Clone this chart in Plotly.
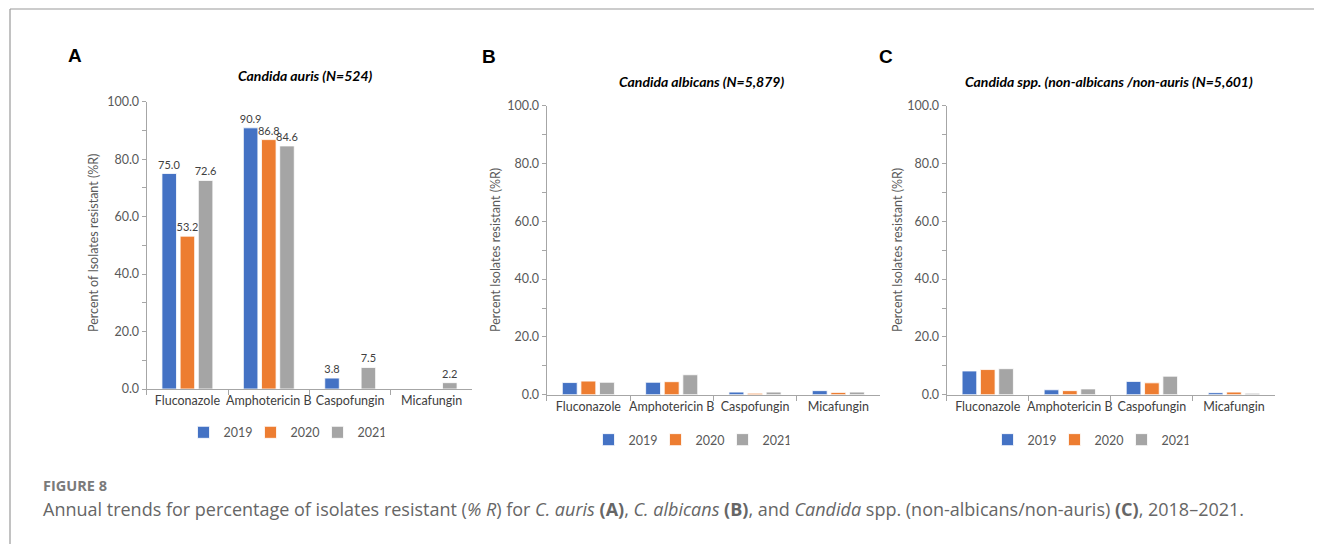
import plotly.graph_objects as go

drugs = ["Fluconazole", "Amphotericin B", "Caspofungin", "Micafungin"]
years = ["2019", "2020", "2021"]
colors = ["#4472C4", "#ED7D31", "#A5A5A5"]

# Panel A: Candida auris (N=524)  (None = no bar)
auris_2019 = [75.0, 90.9, 3.8, None]
auris_2020 = [53.2, 86.8, None, None]
auris_2021 = [72.6, 84.6, 7.5, 2.2]

# Panel B: Candida albicans (N=5,879)
albicans_2019 = [4.2, 4.3, 0.9, 1.4]
albicans_2020 = [4.7, 4.5, 0.5, 0.8]
albicans_2021 = [4.3, 6.9, 0.9, 0.9]

# Panel C: Candida spp. non-albicans/non-auris (N=5,601)
spp_2019 = [8.2, 1.7, 4.6, 0.7]
spp_2020 = [8.7, 1.4, 4.1, 0.9]
spp_2021 = [9.0, 2.0, 6.4, 0.5]

ytickvals = [0, 20, 40, 60, 80, 100]

panels = [
    dict(data=[auris_2019, auris_2020, auris_2021], labels=True, xa="x", ya="y", leg="legend"),
    dict(data=[albicans_2019, albicans_2020, albicans_2021], labels=False, xa="x2", ya="y2", leg="legend2"),
    dict(data=[spp_2019, spp_2020, spp_2021], labels=False, xa="x3", ya="y3", leg="legend3"),
]

FONT = "Lato, 'Open Sans', sans-serif"
CAPFONT = "'Open Sans', Lato, sans-serif"
TICKC = "#595959"
AXC = "#A6A6A6"

fig = go.Figure()
for p in panels:
    for yr, vals, col in zip(years, p["data"], colors):
        txt = [f"{v:.1f}" if (p["labels"] and v is not None) else "" for v in vals]
        fig.add_trace(go.Bar(
            x=drugs, y=vals, name=yr, xaxis=p["xa"], yaxis=p["ya"], legend=p["leg"],
            marker=dict(color=col, line=dict(color="white", width=0.8)),
            text=txt, textposition="outside", cliponaxis=False, constraintext="none",
            textfont=dict(family=FONT, size=11, color="#404040"),
            hoverinfo="x+y",
        ))

W, H = 1322, 544
OFF = 8  # page body margin offset
def px(x): return (x - OFF) / W
def py(y): return 1 - (y - OFF) / H

domains = [
    ((146.7, 472.3), (389.0, 101.7)),
    ((546.7, 880.0), (394.7, 105.7)),
    ((946.7, 1275.0), (394.7, 105.7)),
]

layout = dict(
    template="none",
    width=W, height=H, margin=dict(l=0, r=0, t=0, b=0, pad=0, autoexpand=False),
    paper_bgcolor="white", plot_bgcolor="white",
    barmode="group", bargap=0.33, bargroupgap=0.2,
    font=dict(family=FONT, color=TICKC, size=12),
    showlegend=True,
)

for i, ((x0, x1), (y0, y1)) in enumerate(domains):
    sfx = "" if i == 0 else str(i + 1)
    layout["xaxis" + sfx] = dict(
        domain=[px(x0), px(x1)], anchor="y" + sfx, type="category", automargin=False,
        range=[-0.5, 3.5], showline=True, linecolor=AXC, linewidth=1.2,
        ticks="outside", tickson="boundaries", ticklen=5, tickcolor=AXC, tickangle=0,
        tickfont=dict(family=FONT, size=12.5, color="#404040"), showgrid=False,
        zeroline=False, fixedrange=True,
    )
    layout["yaxis" + sfx] = dict(
        domain=[py(y0), py(y1)], anchor="x" + sfx, range=[0, 100], automargin=False,
        showline=True, linecolor=AXC, linewidth=1.2, showgrid=False, zeroline=False,
        tickvals=ytickvals, tickformat=".1f", ticks="outside", ticklen=4, tickcolor=AXC,
        minor=dict(dtick=10, ticks="outside", ticklen=4, tickcolor=AXC, showgrid=False),
        tickfont=dict(family=FONT, size=12.5, color=TICKC), fixedrange=True,
    )

legend_pos = [(284, 432.7), (689, 440), (1088, 440)]
for i, (lx, ly) in enumerate(legend_pos):
    key = "legend" if i == 0 else f"legend{i+1}"
    layout[key] = dict(
        orientation="h", x=px(lx), y=py(ly), xanchor="center", yanchor="middle",
        font=dict(family=FONT, size=12.5, color=TICKC), itemwidth=30,
        entrywidth=22, entrywidthmode="pixels", bgcolor="rgba(0,0,0,0)",
        traceorder="normal", itemclick=False, itemdoubleclick=False,
    )

fig.update_layout(**layout)

ann = []
def add(text, x, y, size, color, family=FONT, angle=0, xanchor="center"):
    ann.append(dict(text=text, x=px(x), y=py(y), xref="paper", yref="paper",
                    xanchor=xanchor, yanchor="middle", textangle=angle, showarrow=False,
                    font=dict(family=family, size=size, color=color)))

# panel letters
for lab, (lx, ly) in zip(["A", "B", "C"], [(75, 55), (489, 56), (886, 56)]):
    add(f"<b>{lab}</b>", lx, ly, 19, "black", family="Liberation Sans, Arial")
# panel titles
for t, (lx, ly) in zip(["Candida auris (N=524)", "Candida albicans (N=5,879)",
                        "Candida spp. (non-albicans /non-auris (N=5,601)"],
                       [(305, 75), (701, 81.7), (1109, 81.7)]):
    add(f"<b><i>{t}</i></b>", lx, ly, 14, "black")
# y-axis titles
for t, (lx, ly) in zip(["Percent of Isolates resistant (%R)", "Percent Isolates resistant (%R)",
                        "Percent Isolates resistant (%R)"],
                       [(93, 243), (495, 250), (897, 250)]):
    add(t, lx, ly, 12.5, TICKC, angle=-90)
# caption
add("<b>FIGURE 8</b>", 41, 485, 14.5, "#7a7a7a", family=CAPFONT, xanchor="left")
add("Annual trends for percentage of isolates resistant (<i>% R</i>) for <i>C. auris</i> <b>(A)</b>, "
    "<i>C. albicans</i> <b>(B)</b>, and <i>Candida</i> spp. (non-albicans/non-auris) <b>(C)</b>, 2018–2021.",
    41, 509, 18, "#666666", family=CAPFONT, xanchor="left")
fig.update_layout(annotations=ann)

# outer frame lines
fig.add_shape(type="line", xref="paper", yref="paper", x0=px(10), x1=px(10), y0=py(9), y1=0,
              line=dict(color="#999999", width=1.2))
fig.add_shape(type="line", xref="paper", yref="paper", x0=px(10), x1=1, y0=py(9), y1=py(9),
              line=dict(color="#999999", width=1.2))

fig.write_html("out.html")
